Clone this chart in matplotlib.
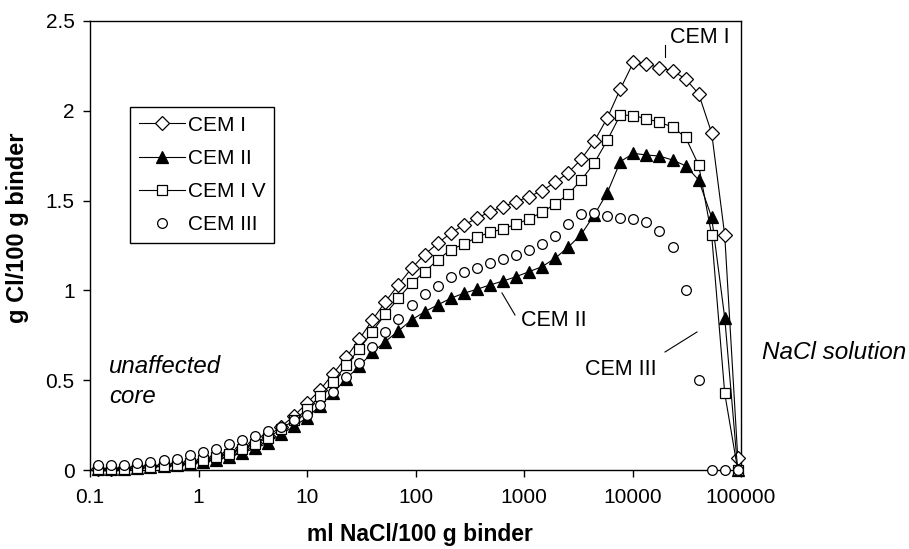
import matplotlib
matplotlib.use("Agg")
import matplotlib.pyplot as plt
from matplotlib.lines import Line2D

plt.rcParams.update({
    "font.family": ["Liberation Sans", "DejaVu Sans"],
    "font.size": 15,
    "axes.linewidth": 1.0,
    "xtick.major.size": 5,
    "ytick.major.size": 5,
    "xtick.major.width": 1.0,
    "ytick.major.width": 1.0,
})

# ── DATA ───────────────────────────────────────────────────────────────────────
ml_nacl = [0.119, 0.157, 0.2075, 0.274, 0.361, 0.476, 0.628, 0.829, 1.093, 1.442,
           1.902, 2.51, 3.31, 4.37, 5.76, 7.60, 10.02, 13.22, 17.44, 23.0,
           30.3, 40.0, 52.8, 69.7, 91.9, 121.2, 159.9, 210.9, 278.2, 367,
           484, 639, 842, 1111, 1466, 1934, 2551, 3365, 4438, 5855,
           7723, 10190, 13440, 17730, 23380, 30840, 40690, 53670, 70790, 93370]

cem1 = [0.005, 0.007, 0.01, 0.015, 0.02, 0.027, 0.035, 0.045, 0.058, 0.075,
        0.095, 0.12, 0.15, 0.19, 0.241, 0.302, 0.373, 0.447, 0.537, 0.627,
        0.728, 0.835, 0.937, 1.032, 1.123, 1.199, 1.262, 1.318, 1.364, 1.401,
        1.438, 1.466, 1.494, 1.522, 1.555, 1.602, 1.655, 1.730, 1.830, 1.960,
        2.121, 2.270, 2.261, 2.240, 2.223, 2.177, 2.095, 1.876, 1.308, 0.068]

cem2 = [0.003, 0.005, 0.008, 0.012, 0.017, 0.022, 0.027, 0.035, 0.046, 0.058,
        0.072, 0.095, 0.12, 0.15, 0.2, 0.243, 0.292, 0.358, 0.43, 0.508,
        0.578, 0.655, 0.715, 0.775, 0.835, 0.881, 0.919, 0.956, 0.984, 1.006,
        1.030, 1.052, 1.076, 1.104, 1.132, 1.179, 1.240, 1.312, 1.420, 1.544,
        1.717, 1.763, 1.754, 1.748, 1.726, 1.694, 1.615, 1.407, 0.848, 0.0]

cem4 = [0.003, 0.005, 0.008, 0.012, 0.017, 0.023, 0.03, 0.04, 0.053, 0.07,
        0.09, 0.115, 0.145, 0.18, 0.227, 0.278, 0.338, 0.412, 0.492, 0.585,
        0.674, 0.770, 0.869, 0.956, 1.040, 1.104, 1.169, 1.227, 1.257, 1.296,
        1.323, 1.342, 1.368, 1.398, 1.435, 1.481, 1.535, 1.615, 1.708, 1.836,
        1.977, 1.973, 1.956, 1.936, 1.910, 1.852, 1.698, 1.307, 0.427, 0.0]

cem3 = [0.028, 0.028, 0.028, 0.037, 0.046, 0.056, 0.062, 0.082, 0.1, 0.117,
        0.145, 0.165, 0.19, 0.215, 0.238, 0.278, 0.307, 0.364, 0.436, 0.517,
        0.597, 0.685, 0.768, 0.838, 0.916, 0.978, 1.024, 1.074, 1.104, 1.127,
        1.151, 1.173, 1.197, 1.225, 1.258, 1.305, 1.370, 1.425, 1.429, 1.414,
        1.405, 1.398, 1.383, 1.333, 1.242, 1.002, 0.501, 0.0, 0.0, 0.0]

x_ticks = [0.1, 1, 10, 100, 1000, 10000, 100000]
x_tick_labels = ["0.1", "1", "10", "100", "1000", "10000", "100000"]
y_ticks = [0, 0.5, 1, 1.5, 2, 2.5]
y_tick_labels = ["0", "0.5", "1", "1.5", "2", "2.5"]

W, H = 909, 549

def fx(px):
    return px / W

def fy(py):
    return 1 - py / H

# ── FIGURE ─────────────────────────────────────────────────────────────────────
fig = plt.figure(figsize=(W / 100, H / 100), dpi=100)
ax = fig.add_axes([fx(90), fy(470), fx(741) - fx(90), fy(21) - fy(470)])

common = dict(color="black", lw=0.8, mec="black", mew=0.9, clip_on=False, zorder=3)
ax.plot(ml_nacl, cem1, marker="D", ms=6.8, mfc="white", label="CEM I", **common)
ax.plot(ml_nacl, cem2, marker="^", ms=8, mfc="black", label="CEM II", **common)
ax.plot(ml_nacl, cem4, marker="s", ms=6.8, mfc="white", label="CEM I V", **common)
ax.plot(ml_nacl, cem3, marker="o", ms=7, mfc="white", ls="none",
        mec="black", mew=0.9, clip_on=False, zorder=3, label="CEM III")

ax.set_xscale("log")
ax.set_xlim(0.1, 100000)
ax.set_ylim(0, 2.5)
ax.set_xticks(x_ticks)
ax.set_xticklabels(x_tick_labels)
ax.minorticks_off()
ax.set_yticks(y_ticks)
ax.set_yticklabels(y_tick_labels)
ax.tick_params(axis="x", direction="out", pad=8, labelsize=15)
ax.tick_params(axis="y", direction="out", pad=6, labelsize=15)

fig.text(fx(420), fy(535), "ml NaCl/100 g binder", ha="center", va="center",
         fontsize=16.5, fontweight="bold")
fig.text(fx(18), fy(228), "g Cl/100 g binder", ha="center", va="center",
         rotation=90, fontsize=17, fontweight="bold")

leg = ax.legend(loc="upper left", bbox_to_anchor=(fx(130), fy(107)),
                bbox_transform=fig.transFigure, borderaxespad=0,
                fancybox=False, framealpha=1, edgecolor="black",
                fontsize=15, handlelength=2.2, handletextpad=0.15,
                labelspacing=0.68, borderpad=0.42)
leg.get_frame().set_linewidth(1.0)

# ── ANNOTATIONS ────────────────────────────────────────────────────────────────
fig.text(fx(670), fy(43), "CEM I", va="baseline", fontsize=15.5)
fig.text(fx(521), fy(326), "CEM II", va="baseline", fontsize=15.5)
fig.text(fx(585), fy(375), "CEM III", va="baseline", fontsize=15.5)
fig.text(fx(109), fy(373), "unaffected", va="baseline", fontsize=17.3, style="italic")
fig.text(fx(109), fy(403), "core", va="baseline", fontsize=17.3, style="italic")
fig.text(fx(762), fy(359), "NaCl solution", va="baseline", fontsize=17.5, style="italic")

for (x0, y0), (x1, y1) in [((665, 45), (665, 57)),
                           ((502, 293), (515, 315)),
                           ((665, 352), (697, 332))]:
    fig.add_artist(Line2D([fx(x0), fx(x1)], [fy(y0), fy(y1)],
                          transform=fig.transFigure, color="black", lw=0.8))

fig.savefig("out.png", dpi=100)
